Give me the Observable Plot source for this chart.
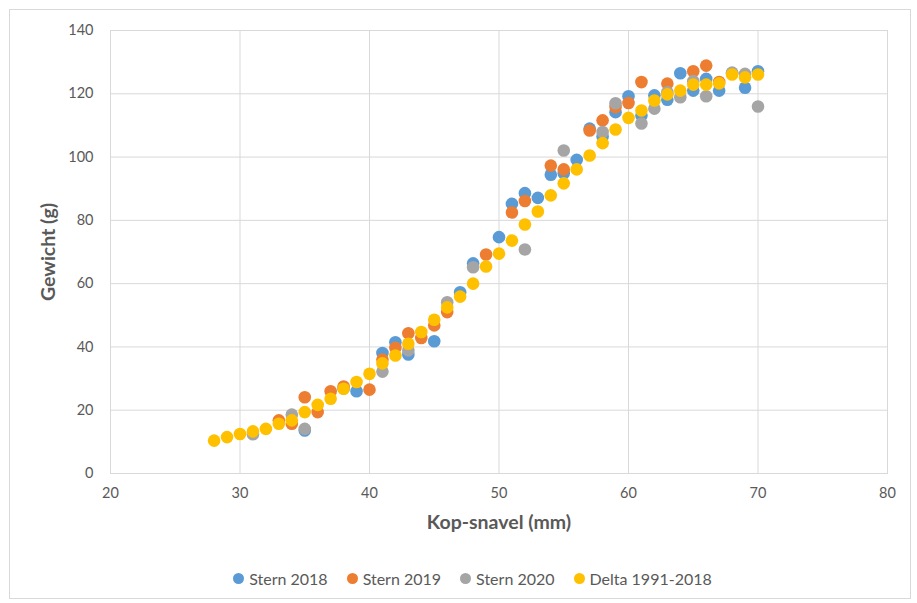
<!DOCTYPE html>
<html>
<head>
<meta charset="utf-8">
<script src="https://cdn.jsdelivr.net/npm/d3@7"></script>
<script src="https://cdn.jsdelivr.net/npm/@observablehq/plot@0.6"></script>
<style>
  html, body { margin: 0; padding: 0; background: #fff; }
  #wrap { position: relative; width: 917px; height: 603px; overflow: hidden; font-family: Lato, "Open Sans", sans-serif; }
  #border { position: absolute; left: 9px; top: 9px; width: 902px; height: 590px; border: 1px solid #d9d9d9; box-sizing: border-box; }
  #chart { position: absolute; left: 0; top: 0; }
  #legend { position: absolute; left: 0; top: 555px; width: 917px; height: 47px; display: flex; justify-content: center; align-items: center; gap: 19px; color: #595959; font-size: 16px; padding-left: 28px; box-sizing: border-box; }
  .item { display: flex; align-items: center; gap: 5px; }
  .sw { width: 11px; height: 11px; border-radius: 50%; display: inline-block; }
</style>
</head>
<body>
<div id="wrap">
  <div id="border"></div>
  <div id="chart"></div>
  <div id="legend"></div>
</div>
<script>
// Series names and colours
const seriesNames = ["Stern 2018", "Stern 2019", "Stern 2020", "Delta 1991-2018"];
const seriesColors = ["#5B9BD5", "#ED7D31", "#A5A5A5", "#FFC000"];

// Stern 2018
const stern2018X = [35, 38, 39, 41, 42, 43, 45, 47, 48, 50, 51, 52, 53, 54, 55, 56, 57, 58, 59, 60, 61, 62, 63, 64, 65, 66, 67, 68, 69, 70];
const stern2018Y = [13.6, 26.9, 26.0, 38.1, 41.5, 37.6, 41.8, 57.3, 66.4, 74.7, 85.2, 88.6, 87.1, 94.4, 94.9, 99.1, 109.0, 106.5, 114.2, 119.2, 113.1, 119.5, 118.1, 126.5, 121.0, 124.7, 121.0, 126.5, 121.9, 127.1];

// Stern 2019
const stern2019X = [33, 34, 35, 36, 37, 38, 40, 41, 42, 43, 44, 45, 46, 49, 51, 52, 54, 55, 57, 58, 59, 60, 61, 63, 65, 66, 67];
const stern2019Y = [16.8, 15.7, 24.1, 19.4, 26.0, 27.5, 26.5, 36.0, 39.7, 44.3, 42.8, 46.8, 51.0, 69.2, 82.5, 86.1, 97.3, 96.1, 108.4, 111.6, 115.8, 117.1, 123.7, 123.2, 127.1, 128.9, 123.7];

// Stern 2020
const stern2020X = [31, 34, 35, 41, 43, 46, 48, 52, 55, 58, 59, 61, 62, 63, 64, 65, 66, 68, 69, 70];
const stern2020Y = [12.4, 18.6, 14.1, 32.2, 38.9, 54.1, 65.2, 70.8, 102.1, 107.9, 117.0, 110.6, 115.3, 120.5, 118.9, 124.0, 119.2, 126.7, 126.3, 116.0];

// Delta 1991-2018
const deltaX = [28, 29, 30, 31, 32, 33, 34, 35, 36, 37, 38, 39, 40, 41, 42, 43, 44, 45, 46, 47, 48, 49, 50, 51, 52, 53, 54, 55, 56, 57, 58, 59, 60, 61, 62, 63, 64, 65, 66, 67, 68, 69, 70];
const deltaY = [10.4, 11.5, 12.5, 13.3, 14.1, 15.7, 16.8, 19.4, 21.7, 23.6, 26.8, 28.9, 31.5, 34.8, 37.3, 41.0, 44.7, 48.6, 52.5, 55.9, 60.0, 65.4, 69.5, 73.6, 78.7, 82.8, 87.9, 91.7, 96.1, 100.5, 104.4, 108.7, 112.4, 114.7, 117.9, 119.8, 121.0, 122.9, 122.9, 123.3, 126.1, 125.2, 126.1];

// Axis ticks
const xTicks = [20, 30, 40, 50, 60, 70, 80];
const yTicks = [0, 20, 40, 60, 80, 100, 120, 140];
const xTitle = "Kop-snavel (mm)";
const yTitle = "Gewicht (g)";

const seriesXY = [[stern2018X, stern2018Y], [stern2019X, stern2019Y], [stern2020X, stern2020Y], [deltaX, deltaY]];
const tables = seriesXY.map(([xs, ys]) => xs.map((x, i) => ({x, y: ys[i]})));

const chart = Plot.plot({
  width: 917,
  height: 555,
  marginLeft: 110,
  marginRight: 30,
  marginTop: 30,
  marginBottom: 82,
  style: { fontFamily: "Lato, 'Open Sans', sans-serif", color: "#595959", background: "transparent" },
  x: { domain: [20, 80] },
  y: { domain: [0, 140] },
  marks: [
    Plot.gridX(xTicks, { stroke: "#d9d9d9", strokeOpacity: 1 }),
    Plot.gridY(yTicks, { stroke: "#d9d9d9", strokeOpacity: 1 }),
    Plot.frame({ stroke: "#d9d9d9" }),
    Plot.axisX(xTicks, { tickSize: 0, tickPadding: 14, fontSize: 14.5, fill: "#595959", label: xTitle, labelAnchor: "center", labelArrow: "none", labelOffset: 55 }),
    Plot.axisY(yTicks, { tickSize: 0, tickPadding: 17, fontSize: 14.5, fill: "#595959", label: yTitle, labelAnchor: "center", labelArrow: "none", labelOffset: 69 }),
    ...tables.map((t, i) => Plot.dot(t, { x: "x", y: "y", r: 6.3, fill: seriesColors[i], stroke: "none" }))
  ]
});
document.getElementById("chart").appendChild(chart);

// style axis titles
chart.querySelectorAll("g[aria-label='x-axis label'] text, g[aria-label='y-axis label'] text").forEach(t => {
  t.setAttribute("font-size", "19.5");
  t.setAttribute("font-weight", "bold");
  t.setAttribute("fill", "#595959");
});

const legend = document.getElementById("legend");
seriesNames.forEach((n, i) => {
  const it = document.createElement("div");
  it.className = "item";
  it.innerHTML = `<span class="sw" style="background:${seriesColors[i]}"></span><span>${n}</span>`;
  legend.appendChild(it);
});
</script>
</body>
</html>
